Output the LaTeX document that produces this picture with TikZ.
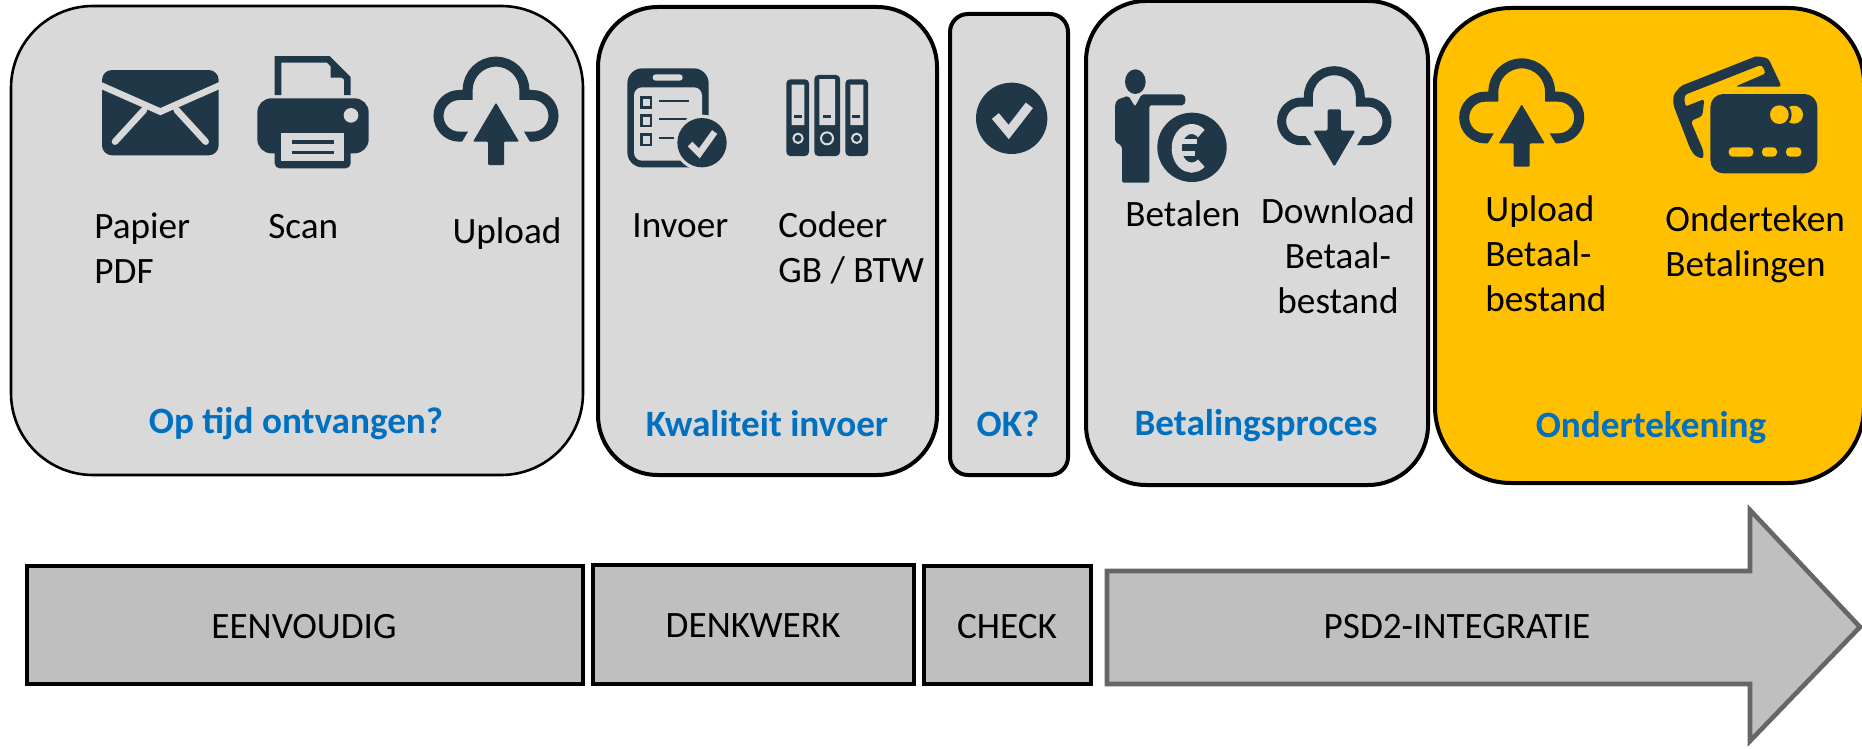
\documentclass[tikz,border=0pt]{standalone}
\usepackage{fontspec}
\setmainfont{Carlito}
\definecolor{icondark}{HTML}{203747}
\definecolor{panelgray}{HTML}{D9D9D9}
\definecolor{bargray}{HTML}{BFBFBF}
\definecolor{gold}{HTML}{FFC000}
\definecolor{headblue}{HTML}{0070C0}
\definecolor{arrowedge}{HTML}{666666}
\tikzset{
  panel/.style={draw=black,line width=2pt,fill=panelgray,outer sep=0pt,inner sep=0pt},
  barbox/.style={draw=black,line width=2pt,fill=bargray,outer sep=0pt,inner sep=0pt},
  lab/.style={font=\fontsize{18.6}{22.5}\selectfont,text=black,align=left,inner sep=0pt},
  labc/.style={lab,align=center},
  head/.style={font=\fontsize{18.6}{22}\selectfont\bfseries,text=headblue,inner sep=0pt},
  zoomed/.style={shift={(#1)},x=0.16667pt,y=-0.16667pt},
  ic/.style={fill=icondark},
  icl/.style={draw=icondark,line join=miter},
}
\newcommand{\cloudup}[3]{% origin, bg, dummy
\begin{scope}[zoomed={#1}]
 \draw[icl,line width=5pt] (-70,140) -- (-110,140) arc[start angle=90,end angle=270,radius=62.5] -- (-85,15) -- (-85,0) arc[start angle=180,end angle=360,radius=85] -- (85,15) -- (110,15) arc[start angle=-90,end angle=90,radius=62.5] -- (70,140);
 \fill[#2] (0,-17) -- (-113,175) -- (113,175) -- cycle;
 \fill[ic,rounded corners=.5pt] (0,38) -- (-69,155) -- (-24,155) -- (-24,225) -- (24,225) -- (24,155) -- (69,155) -- cycle;
\end{scope}}
\begin{document}
\begin{tikzpicture}[x=0.5pt,y=-0.5pt]
\useasboundingbox (0,0) rectangle (1862,749);
% panels
\node[panel,line width=1.3pt,rounded corners=41pt,minimum width=286pt,minimum height=234.5pt] (p1) at (297,240.5) {};
\node[panel,rounded corners=30pt,minimum width=169.5pt,minimum height=234pt] (p2) at (767.5,241) {};
\node[panel,rounded corners=9pt,minimum width=59pt,minimum height=230.5pt] (p3) at (1009,244.5) {};
\node[panel,rounded corners=30pt,minimum width=171pt,minimum height=242pt] (p4) at (1257,243) {};
\node[panel,fill=gold,rounded corners=38pt,minimum width=214.5pt,minimum height=237.5pt] (p5) at (1649.5,245.5) {};
% bottom bars
\node[barbox,minimum width=278pt,minimum height=59pt] (b1) at (305,625) {};
\node[barbox,minimum width=160.5pt,minimum height=59.5pt] (b2) at (753.5,624.5) {};
\node[barbox,minimum width=83.5pt,minimum height=59pt] (b3) at (1007.5,625) {};
\draw[draw=arrowedge,line width=2.3pt,fill=bargray,miter limit=10] (1107,571) -- (1750,571) -- (1750,510) -- (1860,627) -- (1750,741) -- (1750,684) -- (1107,684) -- cycle;
% bar labels
\node[labc] (t1) at (304,627) {EENVOUDIG};
\node[labc] (t2) at (753,626) {DENKWERK};
\node[labc] (t3) at (1007,627) {CHECK};
\node[labc] (t4) at (1457,627) {PSD2-INTEGRATIE};
% panel headings
\node[head] (h1) at (296,424) {Op tijd ontvangen?};
\node[head] (h2) at (767,424) {Kwaliteit invoer};
\node[head] (h3) at (1008,424) {OK?};
\node[head] (h4) at (1256,426) {Betalingsproces};
\node[head] (h5) at (1651,428) {Ondertekening};
% labels
\node[lab,anchor=west] (l1) at (94,248) {Papier\\PDF};
\node[lab,anchor=west] (l2) at (268,227) {Scan};
\node[labc] (l3) at (507,234) {Upload};
\node[lab,anchor=west] (l4) at (632,226) {Invoer};
\node[lab,anchor=west] (l5) at (778,248) {Codeer\\GB / BTW};
\node[lab,anchor=west] (l6) at (1125,214) {Betalen};
\node[labc] (l7) at (1338,256) {Download\\Betaal-\\bestand};
\node[lab,anchor=west] (l8) at (1485,254) {Upload\\Betaal-\\bestand};
\node[lab,anchor=west] (l9) at (1665,244) {Onderteken\\Betalingen};
% envelope
\begin{scope}[zoomed={80,30}]
 \fill[ic,rounded corners=5pt] (66,120) rectangle (416,376);
 \draw[panelgray,line width=3.3pt] (60,165) -- (241,245) -- (422,165);
 \draw[panelgray,line width=3.3pt,line cap=round] (105,335) -- (192,240);
 \draw[panelgray,line width=3.3pt,line cap=round] (377,335) -- (290,240);
 % printer
 \draw[icl,line width=3.3pt] (594,195) -- (594,88) -- (745,88) -- (802,145) -- (802,195);
 \fill[ic] (752,100) -- (752,143) -- (795,143) -- (795,130) -- (760,95) -- cycle;
 \fill[ic,rounded corners=7pt] (532,370) -- (532,205) -- (866,205) -- (866,370) -- cycle;
 \fill[panelgray] (813,256) circle[radius=22];
 \fill[ic,rounded corners=2.5pt] (584,300) rectangle (812,415);
 \fill[panelgray] (604,308) rectangle (792,392);
 \draw[icondark,line width=1.7pt] (636,336) -- (762,336) (636,367) -- (762,367);
\end{scope}
\cloudup{496,90}{panelgray}{}
% clipboard and binders
\begin{scope}[zoomed={600,50}]
 \fill[ic,rounded corners=7.5pt] (82,55) rectangle (326,352);
 \fill[panelgray,rounded corners=4pt] (102,112) -- (102,332) -- (306,332) -- (306,112) -- cycle;
 \fill[panelgray,rounded corners=1.5pt] (158,73) rectangle (248,92);
 \foreach \yy in {140,195,252}{
  \draw[icondark,line width=1.3pt,fill=panelgray] (124,\yy+2) rectangle (153,\yy+33);
 }
 \draw[icondark,line width=1pt] (177,153) -- (268,153) (177,208) -- (262,208) (177,264) -- (222,264);
 \fill[panelgray] (306,278) circle[radius=84];
 \fill[ic] (306,278) circle[radius=74];
 \draw[panelgray,line width=3.2pt] (270,282) -- (298,310) -- (344,246);
 % binders
 \fill[ic,rounded corners=2pt] (559,88) rectangle (627,318);
 \fill[ic,rounded corners=2pt] (643,75) rectangle (720,318);
 \fill[ic,rounded corners=2pt] (736,88) rectangle (804,318);
 \fill[panelgray] (575,104) rectangle (613,225) (658,87) rectangle (705,225) (751,104) rectangle (790,225);
 \draw[icondark,line width=1.5pt] (582,199) -- (606,199) (669,199) -- (693,199) (756,199) -- (780,199);
 \draw[panelgray,line width=1pt] (594,265) circle[radius=14] (681,265) circle[radius=18] (770,265) circle[radius=14];
\end{scope}
% round check
\begin{scope}[zoomed={600,50}]
 \fill[ic] (1235,205) circle[radius=107];
 \draw[panelgray,line width=4.5pt,miter limit=10] (1186,198) -- (1226,246) -- (1288,166);
\end{scope}
% person with euro
\begin{scope}[zoomed={1090,40}]
 \fill[ic] (136,125) ellipse[x radius=31,y radius=37];
 \fill[ic,rounded corners=1pt] (75,195) -- (80,180) -- (115,167) -- (135,200) -- (155,163) -- (270,163) .. controls (290,163) and (290,196) .. (270,196) -- (178,196) -- (178,428) -- (96,428) -- (96,318) -- (75,305) -- cycle;
 \fill[panelgray] (306,322) circle[radius=112];
 \fill[ic] (306,322) circle[radius=104];
 \draw[panelgray,line width=5pt] (305,325) ++(310:45 and 58) arc[start angle=310,end angle=50,x radius=45,y radius=58];
 \draw[panelgray,line width=2.5pt] (248,305) -- (322,305) (248,340) -- (314,340);
\end{scope}
% download cloud
\begin{scope}[zoomed={1334.3,96.7}]
 \draw[icl,line width=4.5pt] (-55,132) -- (-100,132) arc[start angle=90,end angle=270,radius=58] -- (-78,16) -- (-78,0) arc[start angle=180,end angle=360,radius=78] -- (78,16) -- (100,16) arc[start angle=-90,end angle=90,radius=58] -- (55,132);
 \fill[panelgray] (-97,100) -- (97,100) -- (0,250) -- cycle;
 \fill[ic,rounded corners=.7pt] (0,210) -- (-63,102) -- (-20,102) -- (-20,38) -- (20,38) -- (20,102) -- (63,102) -- cycle;
\end{scope}
\cloudup{1521.7,91.7}{gold}{}
% cards
\begin{scope}[zoomed={1440,30}]
 \fill[ic,rounded corners=6.5pt] (811,192) rectangle (1132,430);
 \fill[gold] (1062,254) circle[radius=27];
 \fill[ic] (1018,254) circle[radius=37];
 \fill[gold] (1018,254) circle[radius=28];
 \fill[gold,rounded corners=2pt] (866,352) rectangle (940,380) (966,352) rectangle (1011,380) (1038,352) rectangle (1084,380);
 \fill[ic,rounded corners=1.5pt] (700,195) -- (722,168) -- (950,78) -- (985,85) -- (1025,170) -- (885,170) -- (978,130) -- (965,104) -- (733,195) -- (735,230) -- (793,207) -- (787,258) -- (752,273) -- (790,362) -- (790,387) -- (765,378) -- (750,355) -- (700,225) -- cycle;
\end{scope}
\end{tikzpicture}
\end{document}
